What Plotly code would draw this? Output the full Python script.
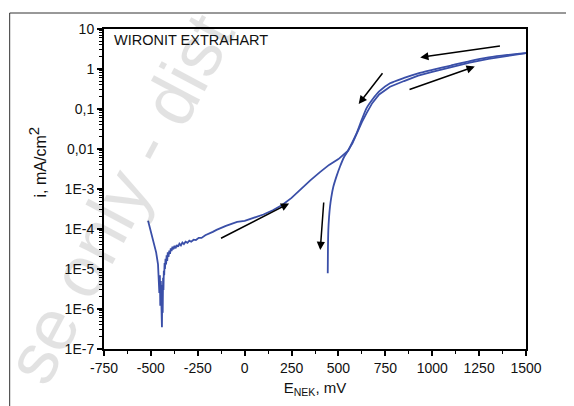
import plotly.graph_objects as go

# ---- data ----
fwd_E = [-515, -500, -487, -472, -462, -458, -455, -452, -450, -447, -445, -443, -441, -439,
         -437, -435, -433, -431, -429, -427, -425, -422, -419, -416, -413, -410, -406, -402,
         -398, -394, -390, -385, -380, -374, -368, -362, -355, -348, -340, -332, -324, -315,
         -305, -295, -285, -272, -260, -245, -230, -210, -190, -170, -150, -130, -100, -70,
         -40, 0, 50, 100, 150, 200, 250, 300, 350, 400, 450, 500, 550, 575, 600, 625, 650,
         680, 717, 775, 850, 925, 1000, 1100, 1200, 1300, 1400, 1500]
fwd_i = [1.6e-4, 8.5e-5, 5.2e-5, 2.6e-5, 1.3e-5, 6e-6, 2.5e-6, 7e-6, 1.2e-6, 5e-6, 4e-7, 3e-6,
         3.5e-7, 4e-6, 8e-7, 6e-6, 3e-6, 9e-6, 7e-6, 1.4e-5, 1.0e-5, 1.8e-5, 1.3e-5, 2.2e-5,
         1.6e-5, 2.6e-5, 2.0e-5, 2.9e-5, 2.4e-5, 3.3e-5, 2.8e-5, 3.6e-5, 3.1e-5, 3.8e-5, 3.3e-5,
         4.0e-5, 3.6e-5, 4.3e-5, 3.9e-5, 4.6e-5, 4.2e-5, 4.8e-5, 4.5e-5, 5.1e-5, 4.8e-5, 5.4e-5,
         5.3e-5, 6.0e-5, 6.0e-5, 7.0e-5, 7.6e-5, 8.5e-5, 9.5e-5, 1.05e-4, 1.2e-4, 1.35e-4,
         1.5e-4, 1.6e-4, 1.9e-4, 2.3e-4, 2.95e-4, 4.0e-4, 6.0e-4, 1.0e-3, 1.65e-3, 2.6e-3,
         4.0e-3, 5.6e-3, 8.9e-3, 0.014, 0.026, 0.047, 0.079, 0.14, 0.23, 0.36, 0.50, 0.68,
         0.85, 1.12, 1.45, 1.78, 2.14, 2.5]

rev_E = [1500, 1400, 1300, 1200, 1100, 1000, 925, 850, 775, 717, 684, 650, 625, 600, 575,
         553, 530, 508, 490, 473, 462, 455, 450, 446, 444, 443]
rev_i = [2.5, 2.25, 1.95, 1.58, 1.22, 0.95, 0.78, 0.60, 0.44, 0.275, 0.18, 0.105, 0.055, 0.027,
         0.015, 9.3e-3, 6.3e-3, 3.6e-3, 2.1e-3, 1.15e-3, 6.3e-4, 3.6e-4, 2.0e-4, 9.3e-5,
         3.2e-5, 7.8e-6]

x_ticks = [-750, -500, -250, 0, 250, 500, 750, 1000, 1250, 1500]
x_labels = ["-750", "-500", "-250", "0", "250", "500", "750", "1000", "1250", "1500"]
y_ticks = [1e-7, 1e-6, 1e-5, 1e-4, 1e-3, 0.01, 0.1, 1, 10]
y_labels = ["1E-7", "1E-6", "1E-5", "1E-4", "1E-3", "0,01", "0,1", "1", "10"]

LINE = "#3a4fa8"
FONT = "Liberation Sans, Arial, sans-serif"

fig = go.Figure()
fig.add_trace(go.Scatter(x=fwd_E, y=fwd_i, mode="lines",
                         line=dict(color=LINE, width=1.8), showlegend=False))
fig.add_trace(go.Scatter(x=rev_E, y=rev_i, mode="lines",
                         line=dict(color=LINE, width=1.8, shape="spline", smoothing=0.6),
                         showlegend=False))

# page body has an 8px margin, so the figure is shrunk and shifted accordingly
fig.update_layout(
    width=566, height=398,
    margin=dict(l=96, r=48, t=21, b=57),
    paper_bgcolor="white", plot_bgcolor="white",
    font=dict(family=FONT, size=14, color="#111"),
    xaxis=dict(range=[-750, 1500], tickvals=x_ticks, ticktext=x_labels,
               showgrid=False, zeroline=False, showline=True, linecolor="black",
               linewidth=2, mirror=True, ticks="outside", ticklen=5, tickwidth=1.5,
               tickcolor="black",
               minor=dict(ticks="outside", ticklen=3, tickwidth=1, tickcolor="black", dtick=125),
               title=dict(text="E<sub>NEK</sub>, mV", font=dict(size=15), standoff=8)),
    yaxis=dict(type="log", range=[-7, 1], tickvals=y_ticks, ticktext=y_labels,
               showgrid=False, zeroline=False, showline=True, linecolor="black",
               linewidth=2, mirror=True, ticks="outside", ticklen=5, tickwidth=1.5,
               tickcolor="black",
               minor=dict(ticks="outside", ticklen=3, tickwidth=1, tickcolor="black",
                          dtick="D1")),
)

# outer frame
fig.add_shape(type="rect", xref="paper", yref="paper", x0=-0.2235, x1=1.3, y0=-0.3, y1=1.05,
              line=dict(color="#333", width=1), layer="below")

# watermark (semi-transparent so the dark text beneath stays readable)
fig.add_annotation(text="se only - dist", xref="paper", yref="paper", x=0.035, y=0.47,
                   xanchor="center", yanchor="middle", opacity=0.11,
                   showarrow=False, textangle=-62, font=dict(size=72, color="black"))

# label
fig.add_annotation(text="WIRONIT EXTRAHART", xref="paper", yref="paper", x=0.02, y=0.965,
                   xanchor="left", yanchor="middle", showarrow=False, font=dict(size=14.5))

# y title
fig.add_annotation(text="i, mA/cm<sup><span style='font-size:15px'>2</span></sup>",
                   xref="paper", yref="paper", x=-0.158, y=0.584,
                   xanchor="center", yanchor="middle",
                   showarrow=False, textangle=-90, font=dict(size=16))

# arrows (tail -> head)
arrows = [(-134, -4.25, 237, -3.36), (422, -3.3, 403, -4.525), (741, -0.07, 608, -0.875),
          (1369, 0.58, 936, 0.29), (871, -0.525, 1227, 0.06)]
for tx, ty, hx, hy in arrows:
    fig.add_annotation(x=hx, y=hy, ax=tx, ay=ty, xref="x", yref="y", axref="x", ayref="y",
                       showarrow=True, arrowhead=2, arrowsize=1.1, arrowwidth=1.5,
                       arrowcolor="black", text="")

fig.write_html("out.html")
